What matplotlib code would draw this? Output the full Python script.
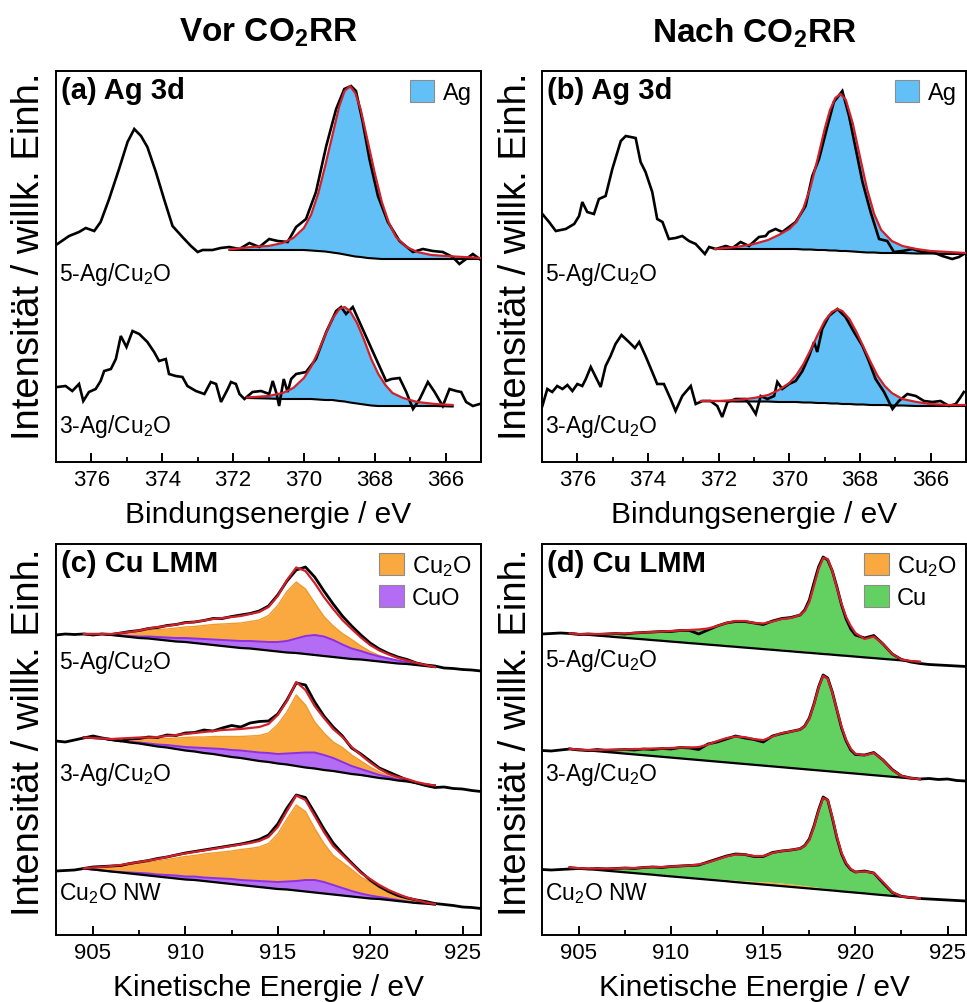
import numpy as np
import matplotlib
matplotlib.use('Agg')
import matplotlib.pyplot as plt
from matplotlib.patches import Patch
from matplotlib.ticker import MultipleLocator
import matplotlib.transforms as mtransforms

plt.rcParams['font.family'] = ['Liberation Sans', 'DejaVu Sans']
plt.rcParams['mathtext.fontset'] = 'custom'
plt.rcParams['mathtext.rm'] = 'Liberation Sans'
plt.rcParams['mathtext.it'] = 'Liberation Sans:italic'
plt.rcParams['mathtext.bf'] = 'Liberation Sans:bold'

# ---------------- Panel (a): Ag 3d before CO2RR ----------------
A5_RAW_E = [376.96, 376.63, 376.35, 376.16, 375.92, 375.74, 375.5, 375.22, 374.98, 374.79,
            374.6, 374.42, 374.18, 373.95, 373.71, 373.43, 373.19, 373.0, 372.86, 372.58,
            372.35, 372.11, 371.82, 371.54, 371.26, 370.98, 370.74, 370.46, 370.22, 369.94,
            369.66, 369.37, 369.09, 368.86, 368.67, 368.53, 368.34, 368.15, 367.91, 367.63,
            367.3, 366.92, 366.64, 366.36, 366.08, 365.8, 365.61, 365.42, 365.23, 365.04]
A5_RAW = [218, 226, 230, 234, 231, 240, 263, 293, 320, 333,
          326, 315, 290, 263, 236, 225, 216, 210, 212, 212,
          214, 215, 213, 219, 215, 223, 221, 220, 235, 243,
          270, 316, 353, 373, 376, 371, 340, 303, 266, 240,
          221, 210, 213, 211, 210, 205, 198, 203, 208, 203]
A5_FIT_E = [372.1, 371.5, 371.0, 370.6, 370.3, 370.0, 369.8, 369.6, 369.4, 369.2, 369.0, 368.85, 368.7,
            368.55, 368.4, 368.2, 368.0, 367.8, 367.6, 367.4, 367.1, 366.8, 366.4, 366.0, 365.5, 365.0]
A5_FIT = [212.5, 215, 216, 219, 224, 234, 247, 268, 296, 326, 356, 371, 376,
          369, 353, 321, 289, 260, 239, 225, 215, 210, 207, 206, 205, 204]
A5_BG = [212, 212, 212, 212, 212, 212, 211.5, 211, 210.5, 209.5, 208.5, 207.5, 206.5,
         205.5, 205, 204, 203.5, 203, 203, 203, 203, 203, 203, 203, 203, 203]

A3_RAW_E = [376.96, 376.73, 376.54, 376.35, 376.23, 376.07, 375.88, 375.74, 375.64, 375.45,
            375.31, 375.17, 375.01, 374.84, 374.65, 374.42, 374.23, 374.09, 373.9, 373.81,
            373.62, 373.43, 373.29, 373.05, 372.81, 372.63, 372.48, 372.34, 372.15, 372.06,
            371.92, 371.82, 371.68, 371.45, 371.21, 370.98, 370.88, 370.77, 370.7, 370.57,
            370.46, 370.36, 370.22, 369.94, 369.66, 369.37, 369.09, 368.95, 368.81, 368.62,
            368.38, 368.05, 367.68, 367.53, 367.3, 367.11, 366.92, 366.73, 366.5, 366.31,
            366.08, 365.89, 365.7, 365.56, 365.42, 365.23, 365.04]
A3_RAW = [75, 76, 71, 78, 61, 70, 73, 81, 91, 93,
          103, 126, 115, 131, 128, 120, 110, 101, 103, 88,
          86, 85, 76, 71, 68, 80, 78, 60, 73, 80,
          78, 68, 63, 70, 71, 68, 81, 68, 56, 83,
          70, 83, 88, 90, 103, 130, 151, 155, 148, 155,
          136, 110, 81, 83, 84, 70, 53, 63, 80, 70,
          56, 73, 71, 70, 60, 56, 58]
A3_FIT_E = [371.6, 371.0, 370.6, 370.3, 370.0, 369.8, 369.6, 369.4, 369.2, 369.0, 368.85, 368.7,
            368.5, 368.3, 368.1, 367.9, 367.7, 367.5, 367.2, 366.8, 366.3, 365.8]
A3_FIT = [64.5, 66, 69, 74, 84, 95, 110, 127, 143, 153, 155, 151,
          139, 122, 103, 88, 77, 69, 64, 60, 58, 57]
A3_BG = [64, 63.5, 63, 63, 63, 63, 62.5, 62, 62, 61, 60.5, 59.5,
         58.5, 57.5, 56.5, 56, 56, 56, 56, 56, 56, 55.5]

# ---------------- Panel (b): Ag 3d after CO2RR ----------------
B5_RAW_E = [376.99, 376.8, 376.61, 376.33, 376.09, 375.95, 375.86, 375.72, 375.53, 375.39,
            375.2, 375.01, 374.77, 374.63, 374.35, 374.21, 374.07, 373.88, 373.74, 373.59,
            373.41, 373.22, 373.03, 372.84, 372.65, 372.39, 372.27, 372.08, 371.8, 371.61,
            371.38, 371.14, 370.86, 370.67, 370.58, 370.39, 370.2, 370.01, 369.82, 369.54,
            369.35, 369.16, 368.92, 368.74, 368.5, 368.31, 368.12, 367.93, 367.7, 367.46,
            367.23, 367.04, 366.8, 366.52, 366.24, 365.95, 365.67, 365.39, 365.2, 365.06]
B5_RAW = [248, 240, 231, 233, 238, 246, 260, 250, 248, 263,
          266, 293, 321, 326, 324, 300, 290, 270, 243, 240,
          223, 224, 226, 221, 218, 208, 215, 213, 216, 214,
          220, 216, 225, 226, 230, 233, 230, 235, 240, 256,
          286, 303, 336, 360, 371, 346, 313, 280, 250, 223,
          221, 210, 211, 213, 210, 210, 206, 203, 205, 208]
B5_FIT_E = [372.1, 371.5, 371.0, 370.6, 370.3, 370.0, 369.8, 369.6, 369.4, 369.2, 369.0, 368.85, 368.7,
            368.55, 368.4, 368.2, 368.0, 367.8, 367.6, 367.4, 367.1, 366.8, 366.4, 366.0, 365.5, 365.0]
B5_FIT = [213, 215, 218, 222, 227, 233, 240, 254, 275, 303, 333, 352, 364,
          368, 362, 338, 305, 273, 248, 232, 221, 216, 213, 211, 210, 209]
B5_BG = [213, 213, 213, 213, 213, 213, 213, 212.5, 212.5, 212, 212, 211.5, 211.5,
         211, 211, 210.5, 210, 209.5, 209.5, 209, 209, 209, 208.5, 208.5, 208, 208]

B3_RAW_E = [376.99, 376.85, 376.71, 376.57, 376.42, 376.28, 376.14, 376.0, 375.86, 375.76,
            375.62, 375.48, 375.34, 375.2, 375.06, 374.92, 374.75, 374.54, 374.37, 374.25,
            374.07, 373.88, 373.74, 373.55, 373.36, 373.22, 373.03, 372.79, 372.65, 372.46,
            372.23, 372.04, 371.9, 371.75, 371.52, 371.24, 371.09, 370.95, 370.81, 370.62,
            370.43, 370.34, 370.2, 370.01, 369.82, 369.63, 369.44, 369.3, 369.21, 369.07,
            368.88, 368.64, 368.41, 368.17, 367.93, 367.75, 367.56, 367.32, 367.08, 366.9,
            366.66, 366.42, 366.19, 365.95, 365.72, 365.48, 365.29, 365.15, 365.06]
B3_RAW = [56, 73, 70, 76, 73, 77, 71, 78, 76, 83,
          95, 85, 75, 96, 106, 118, 127, 120, 114, 120,
          106, 90, 78, 78, 63, 51, 66, 76, 58, 61,
          61, 56, 45, 60, 63, 63, 56, 48, 66, 63,
          66, 80, 73, 78, 81, 91, 106, 120, 110, 133,
          146, 153, 145, 130, 116, 101, 83, 70, 53, 61,
          68, 66, 61, 60, 61, 56, 58, 65, 70]
B3_FIT_E = [372.5, 372.0, 371.5, 371.0, 370.6, 370.3, 370.0, 369.8, 369.6, 369.4, 369.2, 369.0,
            368.8, 368.64, 368.5, 368.3, 368.1, 367.9, 367.7, 367.5, 367.3, 367.1, 366.8,
            366.4, 366.0, 365.5, 365.0]
B3_FIT = [61, 61, 62, 64, 67, 72, 79, 87, 98, 112, 127, 141,
          150, 153, 151, 143, 130, 115, 100, 86, 76, 69, 63,
          60, 58, 57, 57]
B3_BG = [61, 61, 60.5, 60.5, 60.5, 60, 60, 60, 59.5, 59.5, 59, 59,
         58.5, 58.5, 58, 58, 57.5, 57.5, 57, 57, 57, 56.5, 56.5,
         56, 56, 56, 56]

# ---------------- Panel (c): Cu LMM before CO2RR ----------------
E_C_RAW = np.arange(903.0, 926.01, 0.5)
E_C_FIT = np.arange(904.5, 923.51, 0.5)
C5_RAW = [300, 301, 300.5, 301, 300, 301, 300.5, 302, 303.5, 304.5, 306.5, 307.5, 309.5, 310.5, 312.5,
          313, 314.5, 316.5, 316.5, 318.5, 320, 321.5, 324, 329, 340, 354, 365, 368, 358, 344,
          331, 319, 309, 300, 292, 286, 281.5, 278, 275.5, 272, 270, 269, 267, 266.5, 265.5, 265, 264]
C5_BG = [301, 301, 301, 300, 299, 298, 297, 296.5, 295.5, 294.5, 293.5, 293, 292, 291, 290, 289, 288, 287,
         286.5, 285.5, 284.5, 283.5, 282.5, 282, 281, 280, 279, 278, 277, 276, 275.5, 274.5, 273.5,
         272.5, 271.5, 271, 270, 269, 268]
C5_CUO = [0, 0, 0, 0, 0.5, 1, 1.5, 2, 2.5, 3, 3.5, 4, 4.5, 5, 5.5, 6, 6.5, 7, 7.5, 8, 8.5, 9.5, 11.5,
          14.5, 18, 20, 19.5, 17, 13.5, 10.5, 8.5, 6.5, 5, 4, 3, 2, 1, 0.5, 0]
C5_CU2O = [0, 0, 0, 1, 2.5, 4, 6, 8, 10, 11.5, 13.5, 15, 16.5, 18.5, 20.5, 22, 23.5, 25, 27, 29.5, 35,
           46, 61, 71, 65, 52, 39.5, 31, 24.5, 19.5, 13.5, 9, 6, 4, 2.5, 1.5, 1, 0.5, 0]

C3_RAW = [194, 193, 195, 197, 199, 197, 195.5, 194, 196, 196.5, 198, 197.5, 200, 199.5, 202,
          202.5, 205, 204, 207, 209.5, 208, 212, 213.5, 214, 221, 235, 252, 250, 233, 219,
          208, 199, 187, 181, 174, 167, 163, 159, 155, 152, 149.5, 147.5, 148, 146.5, 146, 144.5, 143.5]
C3_BG = [197.5, 197, 196.5, 195, 194, 192.5, 191.5, 190, 188.5, 187.5, 186, 184.5, 183.5, 182, 181,
         179.5, 178, 177, 175.5, 174, 173, 171.5, 170.5, 169, 167.5, 166.5, 165, 164, 162.5, 161,
         160, 158.5, 157, 156, 154.5, 153.5, 152, 150.5, 149.5]
C3_CUO = [0, 0, 0, 0, 0, 0.5, 1, 1.5, 2, 2.5, 3, 3.5, 4, 5, 5.5, 6.5, 7, 7.5, 8, 8.5, 9, 9.5, 11, 13,
          15, 16, 15, 13, 10.5, 8, 6, 4.5, 3, 2, 1, 0.5, 0, 0, 0]
C3_CU2O = [0, 0, 0, 1, 2.5, 4, 5, 6, 7.5, 9, 11, 13, 14.5, 16, 17.5, 19, 20.5, 21.5, 23.5, 25.5, 29,
           39, 52.5, 71, 62.5, 46.5, 37, 29, 25, 19, 14, 9.5, 6, 3, 2.5, 2, 1, 0.5, 0]

CNW_RAW = [64, 64.5, 65, 66.5, 68, 68.5, 69, 69.5, 71.5, 73, 74.5, 76.5, 78, 80, 82, 83.5, 85, 86.5,
           88, 89.5, 91, 93, 95.5, 100, 111, 127, 140, 137.5, 122, 106, 92, 81.5, 72, 63, 55, 48.5,
           43.5, 39.5, 37, 35, 33.5, 31.5, 30.5, 29.5, 28, 27.5, 26.5]
CNW_BG = [66.5, 65.5, 64.5, 63.5, 62.5, 61.5, 60.5, 59.5, 58.5, 57.5, 56.5, 55.5, 55, 54, 53, 52, 51,
          50, 49, 48, 47, 46, 45.5, 44.5, 43.5, 42.5, 41.5, 40.5, 39.5, 38.5, 37.5, 36.5, 36, 35, 34,
          33, 32, 31.5, 30.5]
CNW_CUO = [0, 0, 0, 0, 0.5, 1, 1.5, 2, 2, 2.5, 3, 3, 3.5, 3.5, 4, 4.5, 5, 5, 5.5, 6, 6.5, 7, 8, 9.5,
           11.5, 12.5, 11.5, 9.5, 7.5, 5.5, 4, 3, 2, 1.5, 1, 0.5, 0, 0, 0]
CNW_CU2O = [0, 2, 3.5, 5.5, 7, 9, 11, 13, 15.5, 18, 20.5, 23, 24.5, 27, 29, 31, 33, 35.5, 37.5, 40,
            44.5, 55, 70.5, 85.5, 80, 64, 50, 39, 33, 27, 20.5, 16.5, 12, 8.5, 6, 4, 3, 1, 0.5]

# ---------------- Panel (d): Cu LMM after CO2RR ----------------
E_D_FIT = np.concatenate([np.arange(904.5, 917.01, 0.5), np.arange(917.25, 920.01, 0.25),
                          np.arange(920.5, 923.51, 0.5)])
E_D_RAW = np.concatenate([[903.0, 903.5, 904.0], E_D_FIT, [924.0, 924.5, 925.0, 925.5, 926.0]])

D5_RAW = [301, 301.5, 302,
          301.5, 300.5, 301, 300.5, 301, 301.5, 301, 302, 302.5, 303, 303.5, 303.5, 304.5, 304.5, 301,
          305, 309, 312, 313.5, 313.5, 312, 310.5, 314, 316.5, 317.5, 320,
          325, 335, 352, 368, 378, 375, 364, 348, 330, 316, 306, 300,
          297, 299.5, 291, 281, 275.5, 273, 271.5,
          270.5, 270, 269.5, 269, 268.5]
D5_BG = [301.7, 300.9, 300.2, 299.4, 298.7, 297.9, 297.2, 296.4, 295.7, 294.9, 294.2, 293.4, 292.7,
         291.9, 291.2, 290.4, 289.7, 288.9, 288.2, 287.4, 286.7, 285.9, 285.2, 284.4, 283.7, 282.9,
         282.5, 282.2, 281.8, 281.4, 281.0, 280.7, 280.3, 279.9, 279.5, 279.2, 278.8, 278.4,
         277.6, 276.9, 276.1, 275.4, 274.6, 273.9, 273.1]
D5_CU2O = [0, 0, 0, 0, 0, 0, 0, 0, 0, 0.3, 0.3, 0.4, 0.4, 0.5, 0.5, 0.6, 0.7, 0.8, 0.9, 1, 1.1, 1.2,
           1.3, 1.5, 1.6, 1.5, 1.5, 1.4, 1.3, 1.2, 1.1, 1, 0.9, 0.8, 0.7, 0.6, 0.5, 0.5,
           0.4, 0.3, 0.2, 0.1, 0, 0, 0]
D5_CU = [0, 0, 0.8, 1.6, 2.3, 3.6, 4.3, 5.6, 6.8, 7.8, 9, 10.2, 11.4, 12.6, 13.8, 15.5, 18.6, 22.3,
         24.9, 25.6, 24.2, 24.4, 27, 30.1, 31.7, 35.6,
         40, 49.4, 65.9, 83.4, 94.9, 94.3, 82.8, 66.3, 50.8, 38.2, 29.7, 23.1,
         18, 21.3, 14.7, 5.5, 0.9, 0.1, 0]

D3_RAW = [184.5, 184, 185,
          186, 185, 184.5, 185.5, 184.5, 185, 185.5, 185, 186, 185.5, 186.5, 186, 187.5, 187, 185.5,
          191, 193, 196, 199, 197, 195.5, 193, 199, 201.5, 203.5, 205.5,
          209, 217, 231, 248, 260, 257, 243, 225, 207, 194, 185, 180.5,
          180, 182.5, 175, 165.5, 159, 157, 156,
          156.5, 155.5, 156, 154.5, 154]
D3_BG = [186.2, 185.4, 184.6, 183.8, 183, 182.2, 181.4, 180.6, 179.8, 179, 178.2, 177.4, 176.6,
         175.8, 175, 174.2, 173.4, 172.6, 171.8, 171, 170.2, 169.4, 168.6, 167.8, 167, 166.2,
         165.8, 165.4, 165, 164.6, 164.2, 163.8, 163.4, 163, 162.6, 162.2, 161.8, 161.4,
         160.6, 159.8, 159, 158.2, 157.4, 156.6, 155.8]
D3_CU2O = [0, 0, 0, 0, 0.3, 0.4, 0.5, 0.5, 0.5, 0.5, 0.5, 0.5, 0.5, 0.5, 0.4, 0.4, 0.4, 0.4, 0.4,
           0.4, 0.4, 0.4, 0.4, 0.4, 0.4, 0.4, 0.3, 0.3, 0.3, 0.3, 0.3, 0.3, 0.3, 0.3, 0.2, 0.2,
           0.2, 0.2, 0.1, 0.1, 0, 0, 0, 0, 0]
D3_CU = [0, 0, 0.4, 1.2, 2, 2.8, 3.6, 4.9, 5.7, 7, 7.8, 9.1, 10.4, 11.2, 12.5, 15.8, 20.1, 23.9,
         26.2, 26.5, 25.3, 25.1, 29.4, 33.7, 36, 38.8,
         42.7, 50.6, 65, 82.4, 94.8, 92.2, 78.6, 62, 45.4, 32.8, 24.2, 19.6,
         18.9, 22.2, 16, 6.8, 1.6, 0.4, 0]

DNW_RAW = [65.5, 65, 65.5,
           66, 66.5, 66, 66.5, 66, 66.5, 67, 66.5, 67.5, 68, 67.5, 68.5, 69, 69.5, 70, 73, 76, 79,
           81, 80.5, 78.5, 78.5, 82.5, 84, 85, 86.5,
           89.5, 96, 109, 125, 138, 135, 117, 97, 81, 71, 65.5, 63,
           64, 62, 52, 42.5, 38.5, 37.5, 36.5,
           36, 35.5, 35, 34.5, 34]
DNW_BG = [67.6, 66.8, 65.9, 65.1, 64.3, 63.5, 62.7, 61.9, 61.1, 60.3, 59.4, 58.6, 57.8, 57, 56.2,
          55.4, 54.6, 53.8, 52.9, 52.1, 51.3, 50.5, 49.7, 48.9, 48.1, 47.3,
          46.9, 46.5, 46.1, 45.7, 45.3, 44.9, 44.5, 44.1, 43.6, 43.2, 42.8, 42.4,
          41.6, 40.7, 39.9, 39.1, 38.3, 37.5, 36.7]
DNW_CU2O = [0, 0, 0, 0, 0.3, 0.5, 0.6, 0.7, 0.8, 0.9, 1, 1, 1.1, 1.2, 1.3, 1.4, 1.5, 1.6, 1.8, 2,
            2.3, 2.6, 2.9, 3, 2.9, 2.6, 2.4, 2.2, 2, 1.8, 1.6, 1.4, 1.2, 1, 0.9, 0.8, 0.6, 0.5,
            0.4, 0.3, 0.2, 0.1, 0, 0, 0]
DNW_CU = [0, 0, 0.6, 1.4, 1.9, 2.5, 3.7, 4.4, 5.6, 6.8, 7.6, 8.9, 10.1, 11.3, 13, 15.7, 19.4, 23.1,
          25.8, 26.4, 25.4, 25.9, 29.4, 32.1, 34, 36.6,
          39.7, 46.3, 59.9, 76.5, 90.1, 88.7, 72.3, 52.9, 37.5, 28, 22.6, 20.1,
          21.5, 21, 12.9, 3.8, 0.2, 0, 0]

# ---------------- Text ----------------
TITLES = ['Vor CO$_\\mathbf{2}$RR', 'Nach CO$_\\mathbf{2}$RR']
PANEL_LABELS = ['(a) Ag 3d', '(b) Ag 3d', '(c) Cu LMM', '(d) Cu LMM']
SAMPLES_AG = ['5-Ag/Cu$_2$O', '3-Ag/Cu$_2$O']
SAMPLES_CU = ['5-Ag/Cu$_2$O', '3-Ag/Cu$_2$O', 'Cu$_2$O NW']
XLABEL_AG = 'Bindungsenergie / eV'
XLABEL_CU = 'Kinetische Energie / eV'
YLABEL = 'Intensität / willk. Einh.'

# ---------------- Style ----------------
BLUE = '#63C0F7'
ORANGE = '#F9A93F'
ORANGE_EDGE = '#EE9A2E'
PURPLE = '#B46CF4'
PURPLE_EDGE = '#8E2FE3'
GREEN = '#62D162'
RED = '#D0202A'

W, H = 967, 1003
fig = plt.figure(figsize=(W / 100, H / 100), dpi=100)


def add_ax(x0, y0, x1, y1):
    return fig.add_axes([x0 / W, 1 - y1 / H, (x1 - x0) / W, (y1 - y0) / H])


axA = add_ax(56, 72, 481, 463)
axB = add_ax(542, 72, 966, 463)
axC = add_ax(56, 545, 481, 936)
axD = add_ax(542, 545, 966, 936)


def style(ax, xlim, major, minor, xlabel, ylab_y):
    ax.set_xlim(*xlim)
    ax.set_ylim(0, 391)
    ax.set_yticks([])
    ax.xaxis.set_major_locator(MultipleLocator(major))
    ax.xaxis.set_minor_locator(MultipleLocator(minor))
    ax.tick_params(axis='x', which='major', direction='in', length=6.5, width=1.4,
                   labelsize=16, pad=5)
    ax.tick_params(axis='x', which='minor', direction='in', length=3.5, width=1.3)
    for sp in ax.spines.values():
        sp.set_linewidth(1.4)
    ax.set_xlabel(XLABEL_AG if xlabel == 'ag' else XLABEL_CU, fontsize=21.5, labelpad=7)
    ax.set_ylabel(YLABEL, fontsize=27.5)
    ax.yaxis.set_label_coords(-0.02, ylab_y)


def legend(ax, items):
    handles = [Patch(facecolor=c, edgecolor='#8c8c8c', linewidth=0.8, label=l) for l, c in items]
    ax.legend(handles=handles, loc='upper right', frameon=False, fontsize=17,
              handlelength=1.05, handleheight=1.05, handletextpad=0.35,
              borderaxespad=0.15, borderpad=0.25, labelspacing=0.3)


def ag_spectrum(ax, raw_e, raw, fe, fit, bg):
    ax.fill_between(fe, bg, fit, color=BLUE, lw=0, zorder=1)
    ax.plot(fe, bg, color='k', lw=1.5, zorder=2)
    ax.plot(raw_e, raw, color='k', lw=1.9, zorder=3, solid_joinstyle='miter')
    ax.plot(fe, fit, color=RED, lw=1.6, zorder=4)


for ax, label, specs in [
    (axA, PANEL_LABELS[0], [(A5_RAW_E, A5_RAW, A5_FIT_E, A5_FIT, A5_BG),
                            (A3_RAW_E, A3_RAW, A3_FIT_E, A3_FIT, A3_BG)]),
    (axB, PANEL_LABELS[1], [(B5_RAW_E, B5_RAW, B5_FIT_E, B5_FIT, B5_BG),
                            (B3_RAW_E, B3_RAW, B3_FIT_E, B3_FIT, B3_BG)])]:
    for s in specs:
        ag_spectrum(ax, *s)
    style(ax, (377, 365), 2, 1, 'ag', 0.53)
    legend(ax, [('Ag', BLUE)])
    ax.text(0.012, 0.988, label, transform=ax.transAxes, fontsize=21,
            fontweight='bold', va='top', ha='left')
    tr = mtransforms.blended_transform_factory(ax.transAxes, ax.transData)
    for name, yv in zip(SAMPLES_AG, [188, 36]):
        ax.text(0.008, yv, name, transform=tr, fontsize=16.5, va='center', ha='left')

# panel (c): components overlap from the background
for raw, bg, cuo, cu2o in [(C5_RAW, C5_BG, C5_CUO, C5_CU2O),
                           (C3_RAW, C3_BG, C3_CUO, C3_CU2O),
                           (CNW_RAW, CNW_BG, CNW_CUO, CNW_CU2O)]:
    bg = np.array(bg)
    top_cu2o = bg + np.array(cu2o)
    top_cuo = bg + np.array(cuo)
    env = bg + np.array(cu2o) + np.array(cuo)
    axC.fill_between(E_C_FIT, bg, top_cu2o, color=ORANGE, lw=0, zorder=1)
    axC.plot(E_C_FIT, top_cu2o, color=ORANGE_EDGE, lw=1.0, zorder=1.2)
    axC.fill_between(E_C_FIT, bg, top_cuo, color=PURPLE, lw=0, zorder=1.5)
    axC.plot(E_C_FIT, top_cuo, color=PURPLE_EDGE, lw=1.4, zorder=1.6)
    axC.plot(E_C_FIT, bg, color='k', lw=1.6, zorder=2)
    axC.plot(E_C_RAW, raw, color='k', lw=2.0, zorder=3)
    axC.plot(E_C_FIT, env, color=RED, lw=1.6, zorder=4)
style(axC, (903, 926), 5, 2.5, 'cu', 0.52)
legend(axC, [('Cu$_2$O', ORANGE), ('CuO', PURPLE)])
axC.text(0.012, 0.988, PANEL_LABELS[2], transform=axC.transAxes, fontsize=21,
         fontweight='bold', va='top', ha='left')
trC = mtransforms.blended_transform_factory(axC.transAxes, axC.transData)
for name, yv in zip(SAMPLES_CU, [273, 161, 42]):
    axC.text(0.008, yv, name, transform=trC, fontsize=16.5, va='center', ha='left')

# panel (d): Cu2O sliver at the bottom, Cu stacked on top of it
for raw, bg, cu2o, cu in [(D5_RAW, D5_BG, D5_CU2O, D5_CU),
                          (D3_RAW, D3_BG, D3_CU2O, D3_CU),
                          (DNW_RAW, DNW_BG, DNW_CU2O, DNW_CU)]:
    bg = np.array(bg)
    top_cu2o = bg + np.array(cu2o)
    env = top_cu2o + np.array(cu)
    axD.fill_between(E_D_FIT, top_cu2o, env, color=GREEN, lw=0, zorder=1)
    axD.fill_between(E_D_FIT, bg, top_cu2o, color=ORANGE, lw=0, zorder=1.5)
    axD.plot(E_D_FIT, bg, color='k', lw=1.6, zorder=2)
    axD.plot(E_D_RAW, raw, color='k', lw=2.0, zorder=3)
    axD.plot(E_D_FIT, env, color=RED, lw=1.6, zorder=4)
style(axD, (903, 926), 5, 2.5, 'cu', 0.52)
legend(axD, [('Cu$_2$O', ORANGE), ('Cu', GREEN)])
axD.text(0.012, 0.988, PANEL_LABELS[3], transform=axD.transAxes, fontsize=21,
         fontweight='bold', va='top', ha='left')
trD = mtransforms.blended_transform_factory(axD.transAxes, axD.transData)
for name, yv in zip(SAMPLES_CU, [275, 161, 42]):
    axD.text(0.008, yv, name, transform=trD, fontsize=16.5, va='center', ha='left')

# column titles
fig.text((56 + 481) / 2 / W, 1 - 33 / H, TITLES[0], fontsize=24, fontweight='bold',
         ha='center', va='center')
fig.text((542 + 966) / 2 / W, 1 - 33 / H, TITLES[1], fontsize=24, fontweight='bold',
         ha='center', va='center')

fig.savefig('out.png', dpi=100)
